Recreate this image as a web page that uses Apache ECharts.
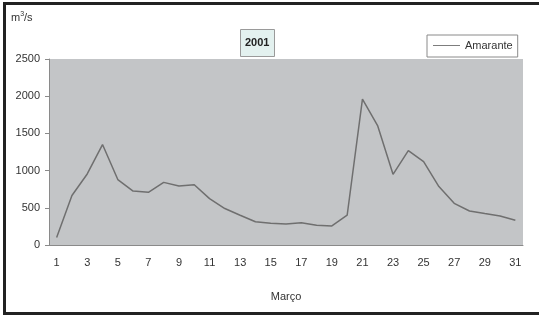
<!DOCTYPE html>
<html>
<head>
<meta charset="utf-8">
<script src="https://cdn.jsdelivr.net/npm/echarts@6/dist/echarts.min.js"></script>
<style>
    body { margin: 0; background: #fff; }
    #wrap { position: relative; width: 539px; height: 315px; overflow: hidden; }
    #chartDiv { width: 539px; height: 315px; }
    #frame {
        position: absolute; left: 3px; top: 2px; width: 560px; height: 307px;
        border-left: 3px solid #222; border-top: 3px solid #222; border-bottom: 3px solid #222;
        pointer-events: none;
    }
</style>
</head>
<body>
<div id="wrap">
    <div id="chartDiv"></div>
    <div id="frame"></div>
</div>
<script>
    // dias de Março
    var days = [];
    for (var d = 1; d <= 31; d++) days.push(String(d));
    // caudal médio diário (m3/s) - Amarante, 2001
    var amarante = [100, 665, 955, 1350, 880, 725, 708, 842, 793, 810,
        623, 490, 400, 312, 292, 282, 300, 266, 257, 400,
        1962, 1600, 950, 1268, 1120, 785, 560, 457, 422, 390, 332];
    var yTicks = [0, 2500, 500];

    var chart = echarts.init(document.getElementById('chartDiv'));
    var txt = '#333';
    var font = 'Liberation Sans, Arial, sans-serif';
    chart.setOption({
        animation: false,
        textStyle: { fontFamily: font },
        title: {
            text: '2001',
            left: 240, top: 29,
            padding: [8, 5, 9, 5],
            backgroundColor: '#e3f1ef',
            borderColor: '#9a9a9a',
            borderWidth: 1,
            textStyle: { fontSize: 11, fontWeight: 'bold', color: '#222', fontFamily: font }
        },
        legend: {
            data: [{ name: 'Amarante', icon: 'path://M0,0 L30,0 L30,1 L0,1 Z' }],
            left: 427, top: 35,
            padding: [5, 5, 6, 6],
            itemWidth: 27, itemHeight: 1, itemGap: 4,
            borderColor: '#8a8a8a', borderWidth: 1,
            backgroundColor: '#fff',
            textStyle: { fontSize: 11, color: txt, fontFamily: font }
        },
        graphic: [{
            type: 'text', left: 11, top: 11,
            style: {
                text: '{a|m}{b|3}{a|/s}',
                rich: {
                    a: { fontSize: 11, fill: txt, fontFamily: font },
                    b: { fontSize: 7, fill: txt, fontFamily: font, verticalAlign: 'top', padding: [0, 0, 6, 0] }
                }
            }
        }],
        grid: {
            left: 49, top: 59, right: 16, bottom: 70,
            show: true, backgroundColor: '#c3c5c7', borderWidth: 0
        },
        xAxis: {
            type: 'category',
            data: days,
            boundaryGap: true,
            name: 'Março',
            nameLocation: 'middle',
            nameGap: 46,
            nameTextStyle: { fontSize: 11, color: txt, fontFamily: font },
            axisLine: { lineStyle: { color: '#8a8a8a', width: 1 } },
            axisTick: { length: 4, interval: 0, lineStyle: { color: '#8a8a8a' } },
            axisLabel: { interval: 1, margin: 12, fontSize: 11, color: txt, fontFamily: font },
            splitLine: { show: false }
        },
        yAxis: {
            type: 'value',
            min: yTicks[0], max: yTicks[1], interval: yTicks[2],
            axisLine: { show: true, lineStyle: { color: '#8a8a8a', width: 1 } },
            axisTick: { show: true, length: 4, lineStyle: { color: '#8a8a8a' } },
            axisLabel: {
                margin: 9, fontSize: 11, color: txt, fontFamily: font,
                formatter: function (v) { return String(v); }
            },
            splitLine: { show: false }
        },
        series: [{
            name: 'Amarante',
            type: 'line',
            data: amarante,
            symbol: 'none',
            lineStyle: { color: '#6f6f6f', width: 1.5 },
            itemStyle: { color: '#6f6f6f' }
        }]
    });
</script>
</body>
</html>
